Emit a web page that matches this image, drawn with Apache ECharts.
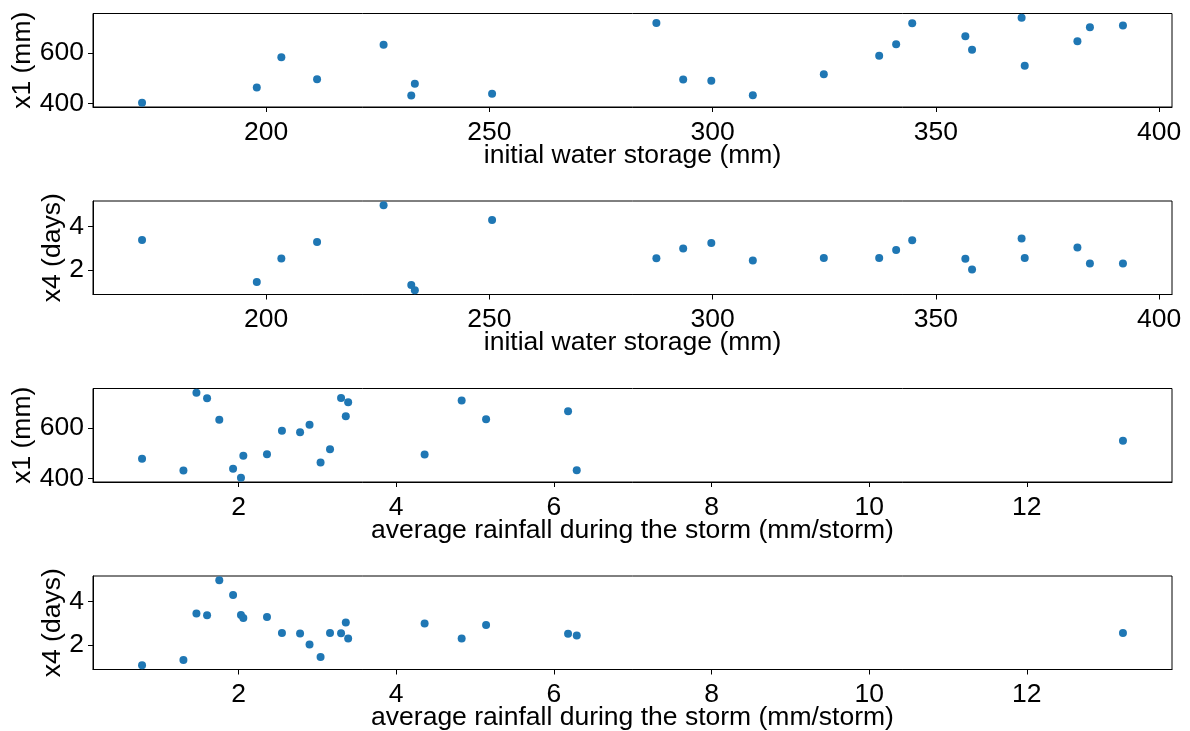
<!DOCTYPE html>
<html><head><meta charset="utf-8">
<script src="https://cdn.jsdelivr.net/npm/echarts@6/dist/echarts.min.js"></script>
<style>html,body{margin:0;padding:0;background:#fff}#c{width:1190px;height:731px}</style>
</head><body><div id="c"></div>
<script>
// initial water storage (mm) per event
const storage = [172.2,197.9,203.4,211.4,226.3,232.5,233.3,250.6,287.4,293.4,299.7,309.0,324.9,337.3,341.1,344.7,356.6,358.1,369.2,369.9,381.7,384.5,391.9];
// average rainfall during the storm (mm/storm)
const rain = [2.03,3.04,2.78,2.36,1.755,1.30,0.775,1.93,3.30,4.36,2.06,6.29,3.16,2.55,5.14,1.60,6.18,2.90,1.465,13.22,3.36,3.39,4.83];
// x1 (mm)
const x1 = [403,463,582,496,632,432,478,438,717,495,490,433,515,588,634,716,665,612,738,549,645,701,707];
// x4 (days)
const x4 = [3.38,1.43,2.52,3.29,4.99,1.29,1.05,4.31,2.53,2.99,3.24,2.43,2.54,2.54,2.92,3.37,2.51,2.01,3.45,2.55,3.03,2.29,2.29];

const storageTicks = [200,250,300,350,400];
const rainTicks = [2,4,6,8,10,12];
const x1Ticks = [400,600];
const x4Ticks = [2,4];

const storageLabel = 'initial water storage (mm)';
const rainLabel = 'average rainfall during the storm (mm/storm)';
const x1Label = 'x1 (mm)';
const x4Label = 'x4 (days)';

function lim(a){const mn=Math.min(...a),mx=Math.max(...a),r=mx-mn;return [mn-0.05*r,mx+0.05*r];}

const FONT = 'Liberation Sans, Arial, sans-serif';
const FS = 26.5;
const tops = [13.5, 201, 388.5, 576];
const H = 93.5;

const panels = [
  {x: storage, y: x1, xt: storageTicks, yt: x1Ticks, xn: storageLabel, yn: x1Label, yg: 57},
  {x: storage, y: x4, xt: storageTicks, yt: x4Ticks, xn: storageLabel, yn: x4Label, yg: 27},
  {x: rain, y: x1, xt: rainTicks, yt: x1Ticks, xn: rainLabel, yn: x1Label, yg: 57},
  {x: rain, y: x4, xt: rainTicks, yt: x4Ticks, xn: rainLabel, yn: x4Label, yg: 27}
];

const grid = [], xAxis = [], yAxis = [], series = [];
const txt = {fontSize: FS, color: '#000', fontFamily: FONT};
panels.forEach((p, i) => {
  grid.push({left: 93, right: 18, top: tops[i], height: H, show: true, borderColor: '#000', borderWidth: 1, backgroundColor: 'transparent', containLabel: false, outerBoundsMode: 'none'});
  const xl = lim(p.x), yl = lim(p.y);
  xAxis.push({
    type: 'value', gridIndex: i, min: xl[0], max: xl[1],
    axisLine: {show: true, onZero: false, lineStyle: {color: '#000', width: 1}},
    axisTick: {show: true, length: 5, inside: false, customValues: p.xt, lineStyle: {color: '#000', width: 1}},
    axisLabel: {show: true, customValues: p.xt, margin: 12, ...txt},
    splitLine: {show: false},
    name: p.xn, nameLocation: 'middle', nameGap: 35, nameMoveOverlap: false, nameTextStyle: txt
  });
  yAxis.push({
    type: 'value', gridIndex: i, min: yl[0], max: yl[1],
    axisLine: {show: true, onZero: false, lineStyle: {color: '#000', width: 1}},
    axisTick: {show: true, length: 5, inside: false, customValues: p.yt, lineStyle: {color: '#000', width: 1}},
    axisLabel: {show: true, customValues: p.yt, margin: 9, ...txt},
    splitLine: {show: false},
    name: p.yn, nameLocation: 'middle', nameRotate: 90, nameGap: p.yg, nameMoveOverlap: false, nameTextStyle: txt
  });
  series.push({
    type: 'scatter', xAxisIndex: i, yAxisIndex: i,
    data: p.x.map((v, k) => [v, p.y[k]]),
    symbolSize: 8, itemStyle: {color: '#1f77b4', opacity: 1}
  });
});

const chart = echarts.init(document.getElementById('c'), null, {renderer: 'canvas'});
chart.setOption({animation: false, backgroundColor: '#fff', textStyle: {fontFamily: FONT}, grid, xAxis, yAxis, series});
</script></body></html>
